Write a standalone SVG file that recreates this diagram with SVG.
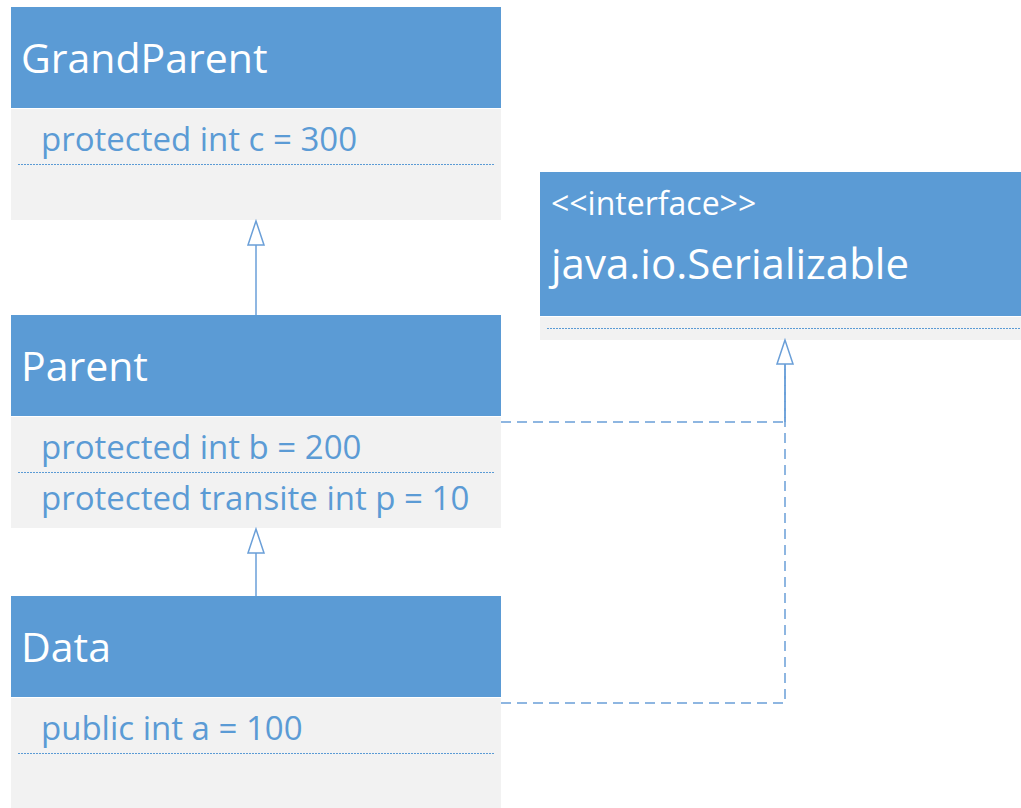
<svg xmlns="http://www.w3.org/2000/svg" width="1021" height="808" viewBox="0 0 1021 808">
  <style>
    .hdr { fill: #5B9BD5; }
    .body { fill: #F2F2F2; }
    .title { font-family: "Open Sans", "Liberation Sans", sans-serif; font-size: 41px; fill: #FFFFFF; }
    .iface { font-size: 42px; }
    .stereo { font-family: "Open Sans", "Liberation Sans", sans-serif; font-size: 32px; fill: #FFFFFF; }
    .attr { font-family: "Open Sans", "Liberation Sans", sans-serif; font-size: 33px; fill: #5B9BD5; }
    .sep { stroke: #5B9BD5; stroke-width: 1; stroke-dasharray: 2 1; fill: none; }
    .conn { stroke: #6A9FD8; stroke-width: 1.5; fill: none; }
    .dash { stroke-dasharray: 10 6; }
    .head { fill: #FFFFFF; stroke: #6A9FD8; stroke-width: 1.5; }
  </style>

  <g id="GrandParent">
    <rect class="hdr" x="11" y="7" width="490" height="101"/>
    <rect class="body" x="11" y="109" width="490" height="111"/>
    <text class="title" x="21" y="73">GrandParent</text>
    <text class="attr" x="41" y="151">protected int c = 300</text>
    <line class="sep" x1="18" y1="164.5" x2="494" y2="164.5"/>
  </g>

  <g id="Parent">
    <rect class="hdr" x="11" y="315" width="490" height="101"/>
    <rect class="body" x="11" y="417" width="490" height="111"/>
    <text class="title" x="21" y="381">Parent</text>
    <text class="attr" x="41" y="459">protected int b = 200</text>
    <line class="sep" x1="18" y1="472.5" x2="494" y2="472.5"/>
    <text class="attr" x="41" y="510">protected transite int p = 10</text>
  </g>

  <g id="Data">
    <rect class="hdr" x="11" y="596" width="490" height="101"/>
    <rect class="body" x="11" y="698" width="490" height="110"/>
    <text class="title" x="21" y="662">Data</text>
    <text class="attr" x="41" y="740">public int a = 100</text>
    <line class="sep" x1="18" y1="753.5" x2="494" y2="753.5"/>
  </g>

  <g id="Serializable">
    <rect class="hdr" x="540" y="172" width="481" height="144"/>
    <rect class="body" x="540" y="317" width="481" height="23"/>
    <text class="stereo" x="551" y="215">&lt;&lt;interface&gt;&gt;</text>
    <text class="title iface" x="551" y="279">java.io.Serializable</text>
    <line class="sep" x1="547" y1="328.5" x2="1021" y2="328.5"/>
  </g>

  <g id="connectors">
    <line class="conn" x1="256" y1="315" x2="256" y2="245"/>
    <polygon class="head" points="256,221 248,245 264,245"/>
    <line class="conn" x1="256" y1="596" x2="256" y2="553"/>
    <polygon class="head" points="256,529 248,553 264,553"/>
    <path class="conn dash" d="M501,422 H785 V364"/>
    <path class="conn dash" d="M501,703 H785 V364"/>
    <line class="conn" x1="785" y1="364" x2="785" y2="422"/>
    <polygon class="head" points="785,340 777,364 793,364"/>
  </g>
</svg>
